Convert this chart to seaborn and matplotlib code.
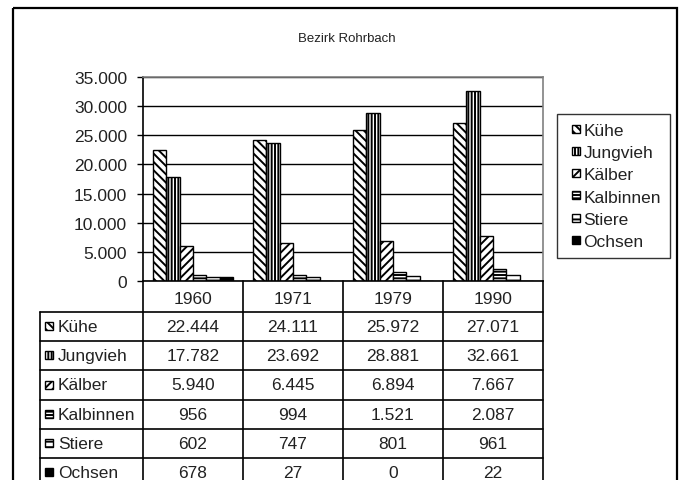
import numpy as np
import pandas as pd
import matplotlib
matplotlib.use('Agg')
import matplotlib.pyplot as plt
import seaborn as sns
from matplotlib.patches import Rectangle
from matplotlib.legend_handler import HandlerPatch
from matplotlib.ticker import FuncFormatter

# ---------------- data ----------------
title = 'Bezirk Rohrbach'
years = ['1960', '1971', '1979', '1990']
series = ['Kühe', 'Jungvieh', 'Kälber', 'Kalbinnen', 'Stiere', 'Ochsen']
kuehe = [22444, 24111, 25972, 27071]
jungvieh = [17782, 23692, 28881, 32661]
kaelber = [5940, 6445, 6894, 7667]
kalbinnen = [956, 994, 1521, 2087]
stiere = [602, 747, 801, 961]
ochsen = [678, 27, 0, 22]
y_ticks = [0, 5000, 10000, 15000, 20000, 25000, 30000, 35000]

values = [kuehe, jungvieh, kaelber, kalbinnen, stiere, ochsen]
hatches = ['\\\\\\\\', '|||||', '////', '-----', '---', '']
faces = ['white', 'white', 'white', 'white', 'white', 'black']

def fmt(v):
    return f"{int(v):,}".replace(',', '.')

rows = []
for s, vals in zip(series, values):
    for y, v in zip(years, vals):
        rows.append({'Jahr': y, 'Art': s, 'Anzahl': v})
df = pd.DataFrame(rows)

# ---------------- style ----------------
sns.set_style('white')
plt.rcParams['font.family'] = ['Liberation Sans', 'DejaVu Sans']
plt.rcParams['hatch.linewidth'] = 1.4
plt.rcParams['hatch.color'] = 'black'
TXT = '#222222'
FS = 12.5

W, H = 681, 481
fig = plt.figure(figsize=(W / 100, H / 100), dpi=100)
fig.patch.set_facecolor('white')

# main plot area (pixel box 143..543 x, 78..282 y)
ax = fig.add_axes([143 / W, 1 - 282 / H, 400 / W, 204 / H])
sns.barplot(data=df, x='Jahr', y='Anzahl', hue='Art', hue_order=series,
            order=years, palette=['white'] * 6, edgecolor='black',
            linewidth=1.0, width=0.8, saturation=1, ax=ax, legend=False)
for cont, h, fc in zip(ax.containers, hatches, faces):
    for bar in cont:
        bar.set_hatch(h)
        bar.set_facecolor(fc)
        bar.set_edgecolor('black')

ax.set_ylim(0, 35000)
ax.set_xlim(-0.5, 3.5)
ax.set_yticks(y_ticks)
ax.yaxis.set_major_formatter(FuncFormatter(lambda v, p: fmt(v)))
ax.set_xticks([])
ax.set_xlabel('')
ax.set_ylabel('')
ax.grid(axis='y', color='black', linewidth=1.0)
ax.set_axisbelow(True)
ax.set_facecolor('white')
for side in ['left', 'bottom']:
    ax.spines[side].set_color('black')
    ax.spines[side].set_linewidth(1.2)
for side in ['top', 'right']:
    ax.spines[side].set_color('#808080')
    ax.spines[side].set_linewidth(1.2)
ax.tick_params(axis='y', direction='out', length=4.5, width=1.0, color='black',
               labelsize=FS, labelcolor=TXT, pad=7, left=True)

# ---------------- legend ----------------
class SquareHandler(HandlerPatch):
    def create_artists(self, legend, orig_handle, xdescent, ydescent,
                       width, height, fontsize, trans):
        s = 5.8
        p = Rectangle((width - s - xdescent, (height - s) / 2 - ydescent), s, s)
        self.update_prop(p, orig_handle, legend)
        p.set_transform(trans)
        return [p]

handles = [Rectangle((0, 0), 1, 1, facecolor=fc, hatch=h, edgecolor='black',
                     linewidth=1.0) for h, fc in zip(hatches, faces)]
leg = fig.legend(handles, series, loc='upper left',
                 bbox_to_anchor=(557 / W, 1 - 115 / H),
                 frameon=True, fancybox=False, edgecolor='black',
                 fontsize=FS, handlelength=0.8, handleheight=0.6,
                 handletextpad=0.22, labelspacing=0.42, borderpad=0.5,
                 borderaxespad=0,
                 handler_map={Rectangle: SquareHandler()})
leg.get_frame().set_linewidth(1.0)
for t in leg.get_texts():
    t.set_color(TXT)

# ---------------- overlay for frame, title and data table ----------------
ov = fig.add_axes([0, 0, 1, 1])
ov.set_xlim(0, W)
ov.set_ylim(H, 0)
ov.axis('off')
ov.patch.set_alpha(0)

# outer chart frame
ov.add_patch(Rectangle((13, 9), 664, 500, fill=False, edgecolor='black',
                       linewidth=1.6, clip_on=False))

ov.text(347, 39, title, ha='center', va='center', fontsize=9.5, color=TXT)

col_edges = [143, 243, 343, 443, 543]
header_top, header_bot = 282, 313
row_h = 29.2
n_rows = len(series)
row_edges = [header_bot + i * row_h for i in range(n_rows + 1)]
bottom = row_edges[-1]
label_left = 40

lw = 1.2
for x in col_edges:
    ov.plot([x, x], [header_top, bottom], color='black', lw=lw, clip_on=False)
ov.plot([label_left, label_left], [header_bot, bottom], color='black', lw=lw)
for y in row_edges:
    ov.plot([label_left, col_edges[-1]], [y, y], color='black', lw=lw)

centers_x = [(a + b) / 2 for a, b in zip(col_edges[:-1], col_edges[1:])]
for cx, yr in zip(centers_x, years):
    ov.text(cx, (header_top + header_bot) / 2 + 2, yr, ha='center', va='center',
            fontsize=FS, color=TXT)

for i, (s, vals, h, fc) in enumerate(zip(series, values, hatches, faces)):
    cy = (row_edges[i] + row_edges[i + 1]) / 2
    ov.add_patch(Rectangle((45, cy - 4.5), 8, 8, facecolor=fc, hatch=h,
                           edgecolor='black', linewidth=1.0))
    ov.text(58, cy, s, ha='left', va='center', fontsize=FS, color=TXT)
    for cx, v in zip(centers_x, vals):
        ov.text(cx, cy, fmt(v), ha='center', va='center', fontsize=FS, color=TXT)

fig.savefig('out.png', dpi=100, facecolor='white')
